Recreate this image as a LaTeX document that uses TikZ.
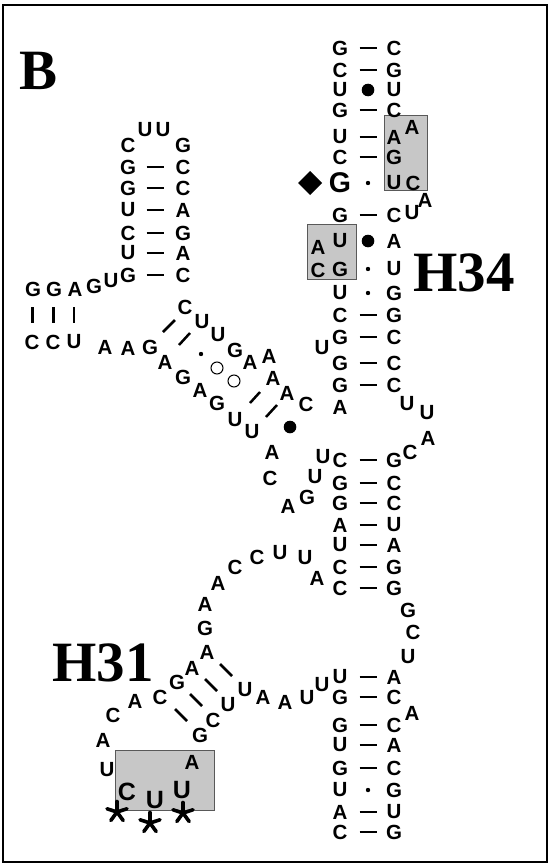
\documentclass[tikz,border=0pt]{standalone}
\usepackage{fontspec}
\newfontfamily\ntfont{Liberation Sans}
\newfontfamily\labfont{Liberation Serif}
% base-pair symbols
\newcommand\bondD[2]{\draw[bond] (#1,#2) +(-8.5,0) -- +(8.5,0);}
\newcommand\bondF[2]{\fill (#1,#2) circle[radius=6.3pt];}
\newcommand\bondS[2]{\fill (#1,#2) circle[radius=2.2pt];}
\tikzset{
  nt/.style={font=\ntfont\bfseries\fontsize{20.5}{21}\selectfont, inner sep=0pt, anchor=center},
  ntbig/.style={nt, font=\ntfont\bfseries\fontsize{28.5}{29}\selectfont},
  ntmid/.style={nt, font=\ntfont\bfseries\fontsize{25}{25}\selectfont},
  lab/.style={font=\labfont\bfseries\fontsize{57}{57}\selectfont, inner sep=0pt, anchor=center},
  bond/.style={line width=2.5pt},
  hibox/.style={fill=black!22, draw=black!65, line width=0.8pt},
  star/.style={line width=3.6pt, line cap=round},
}
\begin{document}
\begin{tikzpicture}[x=1pt, y=-1pt]
\useasboundingbox (0,0) rectangle (550,867);
\draw[line width=2pt] (3,5) rectangle (547,862);

% shaded regions
\draw[hibox] (384,115) rectangle (427,190);
\draw[hibox] (307,224) rectangle (356,279);
\draw[hibox] (115,750) rectangle (214,810);

% panel and helix labels
\node[lab] (panel) at (39,71) {B};
\node[lab] (h34) at (464,273) {H34};
\node[lab] (h31) at (103,663) {H31};

% long helical stems: left base, right base, pairing symbol
\foreach \y/\l/\r/\b [count=\i] in {
  48/G/C/\bondD, 70/C/G/\bondD, 90/U/U/\bondF, 110/G/C/\bondD,
  137/U/A/\bondD, 157/C/G/\bondD, 215/G/C/\bondD, 241/U/A/\bondF,
  269/G/U/\bondS, 293/U/G/\bondS, 315/C/G/\bondD, 337/G/C/\bondD,
  363/G/C/\bondD, 385/G/C/\bondD,
  460/C/G/\bondD, 483/G/C/\bondD, 503/G/C/\bondD, 525/A/U/\bondD,
  545/U/A/\bondD, 567/C/G/\bondD, 588/C/G/\bondD,
  677/U/A/\bondD, 697/G/C/\bondD, 725/G/C/\bondD, 745/U/A/\bondD,
  768/G/C/\bondD, 790/U/G/\bondS, 812/A/U/\bondD, 832/C/G/\bondD}
{
  \node[nt] (sl\i) at (340,\y) {\l};
  \node[nt] (sr\i) at (394,\y) {\r};
  \b{368}{\y}
}

% G.U pair flagged by the diamond
\node[ntbig] (gflag) at (340,183) {G};
\node[nt] (uflag) at (394,183) {U};
\bondS{368}{183}
\fill (298,183) -- (310,171) -- (322,183) -- (310,195) -- cycle;

% upper-left hairpin stem
\foreach \y/\l/\r [count=\i] in {
  167/G/C, 188/G/C, 210/U/A, 233/C/G, 253/U/A, 275/G/C}
{
  \node[nt] (hl\i) at (128,\y) {\l};
  \node[nt] (hr\i) at (183,\y) {\r};
  \bondD{155}{\y}
}

% unpaired and loop bases
\foreach \x/\y/\t [count=\i] in {
  128/145/C, 145/130/U, 163/130/U, 183/145/G,
  33/289/G, 54/289/G, 75/289/A, 94/286/G, 111/281/U,
  32/342/C, 53/342/C, 74/342/U,
  105/347/A, 128/348/A, 150/347/G,
  185/307/C, 202/322/U, 218/335/U, 235/350/G, 250/362/A, 269/356/A,
  273/378/A, 287/393/A, 306/404/C,
  165/362/A, 183/377/G, 200/390/A, 217/403/G, 235/420/U, 252/432/U,
  272/452/A, 270/478/C, 288/506/A, 307/497/G, 315/477/U, 323/457/U,
  412/127/A, 413/183/C, 425/200/A, 412/213/U,
  318/247/A, 318/270/C,
  322/348/U, 340/407/A,
  407/404/U, 427/413/U, 428/438/A, 410/452/C,
  408/610/G, 413/632/C, 408/657/U, 412/713/A,
  322/685/U, 307/698/U, 285/702/A, 263/697/A, 245/690/U, 228/705/U,
  213/720/C, 200/735/G, 192/762/A,
  107/770/U, 103/740/A, 113/715/C, 135/701/A, 160/697/C, 177/682/G,
  192/668/A, 207/652/A, 205/628/G, 205/604/A, 218/583/A, 235/567/C,
  257/557/C, 280/553/U, 305/558/U, 317/578/A}
{
  \node[nt] (b\i) at (\x,\y) {\t};
}

% enlarged bases in the H31 loop
\node[ntmid] (c31) at (127,792) {C};
\node[ntmid] (u31a) at (155,800) {U};
\node[ntmid] (u31b) at (182,790) {U};

% short helix on the left
\foreach \x in {32.5,53.5,74}
  \draw[bond] (\x,307) -- (\x,323);

% internal loop pairing symbols
\draw[bond] (163,332) -- (175,320);
\draw[bond] (179,345) -- (190,333);
\bondS{201}{354}
\draw[line width=1pt] (217,368) circle[radius=6pt];
\draw[line width=1pt] (234,381) circle[radius=6pt];
\draw[bond] (250,403) -- (260,392);
\draw[bond] (266,417) -- (277,405);
\bondF{290}{427}

% H31 pairs
\draw[bond] (220,664) -- (232,676);
\draw[bond] (205,679) -- (217,691);
\draw[bond] (190,694) -- (202,706);
\draw[bond] (175,709) -- (187,721);

% asterisks under the H31 loop
\foreach \x/\y in {117/812, 150/823, 183/813}
  \foreach \a in {90,18,162,-54,-126}
    \draw[star] (\x,\y) -- ++(\a:-10.5);
\end{tikzpicture}
\end{document}
